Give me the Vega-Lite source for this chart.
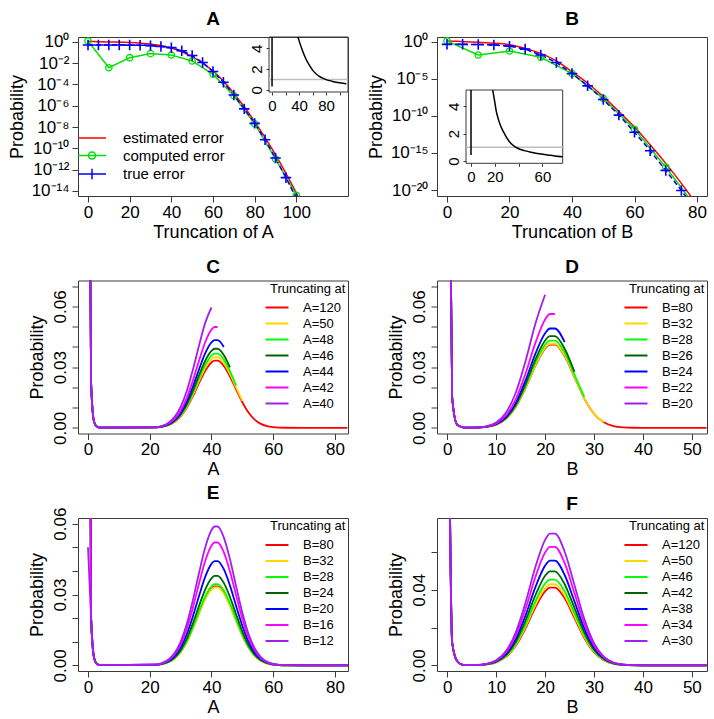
{
"$schema": "https://vega.github.io/schema/vega-lite/v6.json",
"padding": {"left": 7, "top": 9, "right": 5, "bottom": 5},
"background": "white",
"columns": 2,
"spacing": {"row": 84.5, "column": 89},
"bounds": "flush",
"resolve": {"scale": {"color": "independent", "shape": "independent", "strokeDash": "independent"}, "legend": {"color": "independent", "shape": "independent"}},
"concat": [
{
 "title": {"text": "A"},
 "width": 270, "height": 159,
 "layer": [
  {"layer": [
   {"data": {"name": "a"}, "transform": [{"filter": "datum.s == 'estimated error'"}],
    "mark": {"type": "line", "interpolate": "monotone", "strokeWidth": 1.5, "clip": true},
    "encoding": {
     "x": {"field": "x", "type": "quantitative", "scale": {"domain": [-4.8, 124.8], "nice": false, "zero": false}, "axis": {"orient": "bottom", "values": [0,20,40,60,80,100], "title": "Truncation of A"}},
     "y": {"field": "y", "type": "quantitative", "scale": {"type": "log", "domain": [3.39e-15, 2.75], "nice": false}, "axis": {"orient": "left", "values": [1,1e-2,1e-4,1e-6,1e-8,1e-10,1e-12,1e-14], "labelExpr": "'10' + replace(replace(replace(replace(replace(replace(replace(replace('' + round(log(datum.value) / LN10), '-', '⁻'), '0', '⁰'), '1', '¹'), '2', '²'), '4', '⁴'), '5', '⁵'), '6', '⁶'), '8', '⁸')", "labelPadding": 3, "title": "Probability", "titlePadding": 5}},
     "color": {"field": "s", "type": "nominal", "scale": {"domain": ["estimated error","computed error","true error"], "range": ["#FF0000","#00E000","#0000FF"]}, "legend": {"title": null, "orient": "none", "legendX": 6, "legendY": 93, "symbolSize": 196, "symbolStrokeWidth": 1.5, "symbolOpacity": 1, "labelFontSize": 15, "labelOffset": 23, "rowPadding": 1.5}}
    }},
   {"data": {"name": "a"}, "transform": [{"filter": "datum.s != 'estimated error'"}],
    "mark": {"type": "line", "strokeWidth": 1.5, "clip": true},
    "encoding": {
     "x": {"field": "x", "type": "quantitative"},
     "y": {"field": "y", "type": "quantitative"},
     "color": {"field": "s", "type": "nominal", "legend": {"title": null, "orient": "none", "legendX": 6, "legendY": 93, "symbolSize": 196, "symbolStrokeWidth": 1.5, "symbolOpacity": 1, "labelFontSize": 15, "labelOffset": 23, "rowPadding": 1.5}},
     "strokeDash": {"field": "s", "type": "nominal", "scale": {"domain": ["computed error","true error"], "range": [[1,0],[5,3]]}, "legend": null}
    }},
   {"data": {"name": "a"}, "transform": [{"filter": "datum.s == 'computed error'"}],
    "mark": {"type": "point", "shape": "circle", "filled": false, "size": 40, "strokeWidth": 1.3, "opacity": 1, "clip": true},
    "encoding": {
     "x": {"field": "x", "type": "quantitative"},
     "y": {"field": "y", "type": "quantitative"},
     "color": {"field": "s", "type": "nominal", "legend": {"title": null, "orient": "none", "legendX": 6, "legendY": 93, "symbolSize": 196, "symbolStrokeWidth": 1.5, "symbolOpacity": 1, "labelFontSize": 15, "labelOffset": 23, "rowPadding": 1.5}}
    }},
   {"data": {"name": "a"}, "transform": [{"filter": "datum.s == 'true error'"}],
    "mark": {"type": "point", "shape": "M-1,0H1M0,-1V1", "filled": false, "size": 110, "strokeWidth": 1.6, "opacity": 1, "clip": true},
    "encoding": {
     "x": {"field": "x", "type": "quantitative"},
     "y": {"field": "y", "type": "quantitative"},
     "color": {"field": "s", "type": "nominal", "legend": {"title": null, "orient": "none", "legendX": 6, "legendY": 93, "symbolSize": 196, "symbolStrokeWidth": 1.5, "symbolOpacity": 1, "labelFontSize": 15, "labelOffset": 23, "rowPadding": 1.5}}
    }},
   {"data": {"values": [{"s": "estimated error"},{"s": "computed error"},{"s": "true error"}]},
    "mark": {"type": "point", "filled": false, "opacity": 0},
    "encoding": {
     "color": {"field": "s", "type": "nominal", "legend": {"title": null, "orient": "none", "legendX": 6, "legendY": 93, "symbolSize": 196, "symbolStrokeWidth": 1.5, "symbolOpacity": 1, "labelFontSize": 15, "labelOffset": 23, "rowPadding": 1.5}},
     "shape": {"field": "s", "type": "nominal", "scale": {"domain": ["estimated error","computed error","true error"], "range": ["M-2,0H2", "M-2,0H2M-0.5,0A0.5,0.5 0 1,1 0.5,0A0.5,0.5 0 1,1 -0.5,0", "M-2,0H2M0,-0.75V0.75"]}, "legend": {"title": null, "orient": "none", "legendX": 6, "legendY": 93, "symbolSize": 196, "symbolStrokeWidth": 1.5, "symbolOpacity": 1, "labelFontSize": 15, "labelOffset": 23, "rowPadding": 1.5}}
    }}
  ]},
  {"layer": [
   {"data": {"values": [{}]}, "mark": {"type": "rect", "fill": "transparent", "stroke": "#3a3a3a", "strokeWidth": 1},
    "encoding": {"x": {"datum": -4.5, "type": "quantitative"}, "x2": {"datum": 112.5}, "y": {"datum": -0.22, "type": "quantitative"}, "y2": {"datum": 5.1}}},
   {"data": {"values": [{}]}, "mark": {"type": "rule", "color": "#BEBEBE", "strokeWidth": 1.5},
    "encoding": {"x": {"datum": -4.5, "type": "quantitative"}, "x2": {"datum": 112.5}, "y": {"datum": 1, "type": "quantitative"}}},
   {"data": {"name": "ia"}, "mark": {"type": "line", "interpolate": "monotone", "color": "#000000", "strokeWidth": 1.5, "clip": true},
    "encoding": {
     "x": {"field": "x", "type": "quantitative", "scale": {"domain": [-4.5, 112.5], "range": [191, 270], "nice": false, "zero": false}, "axis": {"orient": "bottom", "offset": -104, "values": [0,20,40,60,80,100], "labelExpr": "datum.value % 40 == 0 ? datum.label : ''", "title": null, "tickSize": 3, "labelFontSize": 15, "labelPadding": 3}},
     "y": {"field": "y", "type": "quantitative", "scale": {"domain": [-0.22, 5.1], "range": [55, 0], "nice": false, "zero": false}, "axis": {"orient": "left", "offset": -191, "values": [0,1,2,3,4,5], "labelExpr": "datum.value % 2 == 0 ? datum.label : ''", "labelAngle": -90, "labelAlign": "center", "labelBaseline": "bottom", "title": null, "tickSize": 3, "labelFontSize": 15, "labelPadding": 2}},
     "detail": {"field": "seg", "type": "nominal"}
    }}
  ]}
 ],
 "resolve": {"scale": {"x": "independent", "y": "independent"}}
},
{
 "title": {"text": "B"},
 "width": 270, "height": 159,
 "layer": [
  {"layer": [
   {"data": {"name": "b"}, "transform": [{"filter": "datum.s == 'estimated error'"}],
    "mark": {"type": "line", "interpolate": "monotone", "strokeWidth": 1.5, "clip": true},
    "encoding": {
     "x": {"field": "x", "type": "quantitative", "scale": {"domain": [-3.2, 83.2], "nice": false, "zero": false}, "axis": {"orient": "bottom", "values": [0,20,40,60,80], "title": "Truncation of B"}},
     "y": {"field": "y", "type": "quantitative", "scale": {"type": "log", "domain": [1.58e-21, 4.27], "nice": false}, "axis": {"orient": "left", "values": [1,1e-5,1e-10,1e-15,1e-20], "labelExpr": "'10' + replace(replace(replace(replace(replace(replace(replace(replace('' + round(log(datum.value) / LN10), '-', '⁻'), '0', '⁰'), '1', '¹'), '2', '²'), '4', '⁴'), '5', '⁵'), '6', '⁶'), '8', '⁸')", "labelPadding": 3, "title": "Probability", "titlePadding": 5}},
     "color": {"field": "s", "type": "nominal", "scale": {"domain": ["estimated error","computed error","true error"], "range": ["#FF0000","#00E000","#0000FF"]}, "legend": null}
    }},
   {"data": {"name": "b"}, "transform": [{"filter": "datum.s != 'estimated error'"}],
    "mark": {"type": "line", "strokeWidth": 1.5, "clip": true},
    "encoding": {
     "x": {"field": "x", "type": "quantitative"},
     "y": {"field": "y", "type": "quantitative"},
     "color": {"field": "s", "type": "nominal", "legend": null},
     "strokeDash": {"field": "s", "type": "nominal", "scale": {"domain": ["computed error","true error"], "range": [[1,0],[5,3]]}, "legend": null}
    }},
   {"data": {"name": "b"}, "transform": [{"filter": "datum.s == 'computed error'"}],
    "mark": {"type": "point", "shape": "circle", "filled": false, "size": 40, "strokeWidth": 1.3, "opacity": 1, "clip": true},
    "encoding": {
     "x": {"field": "x", "type": "quantitative"},
     "y": {"field": "y", "type": "quantitative"},
     "color": {"field": "s", "type": "nominal", "legend": null}
    }},
   {"data": {"name": "b"}, "transform": [{"filter": "datum.s == 'true error'"}],
    "mark": {"type": "point", "shape": "M-1,0H1M0,-1V1", "filled": false, "size": 110, "strokeWidth": 1.6, "opacity": 1, "clip": true},
    "encoding": {
     "x": {"field": "x", "type": "quantitative"},
     "y": {"field": "y", "type": "quantitative"},
     "color": {"field": "s", "type": "nominal", "legend": null}
    }}
  ]},
  {"layer": [
   {"data": {"values": [{}]}, "mark": {"type": "rect", "fill": "transparent", "stroke": "#3a3a3a", "strokeWidth": 1},
    "encoding": {"x": {"datum": -4.2, "type": "quantitative"}, "x2": {"datum": 77}, "y": {"datum": -0.17, "type": "quantitative"}, "y2": {"datum": 5.2}}},
   {"data": {"values": [{}]}, "mark": {"type": "rule", "color": "#BEBEBE", "strokeWidth": 1.5},
    "encoding": {"x": {"datum": -4.2, "type": "quantitative"}, "x2": {"datum": 77}, "y": {"datum": 1, "type": "quantitative"}}},
   {"data": {"name": "ib"}, "mark": {"type": "line", "interpolate": "monotone", "color": "#000000", "strokeWidth": 1.5, "clip": true},
    "encoding": {
     "x": {"field": "x", "type": "quantitative", "scale": {"domain": [-4.2, 77], "range": [29, 125.7], "nice": false, "zero": false}, "axis": {"orient": "bottom", "offset": -32.7, "values": [0,20,40,60], "labelExpr": "datum.value == 40 ? '' : datum.label", "title": null, "tickSize": 3, "labelFontSize": 15, "labelPadding": 3}},
     "y": {"field": "y", "type": "quantitative", "scale": {"domain": [-0.17, 5.2], "range": [126.3, 53], "nice": false, "zero": false}, "axis": {"orient": "left", "offset": -29, "values": [0,1,2,3,4,5], "labelExpr": "datum.value % 2 == 0 ? datum.label : ''", "labelAngle": -90, "labelAlign": "center", "labelBaseline": "bottom", "title": null, "tickSize": 3, "labelFontSize": 15, "labelPadding": 2}},
     "detail": {"field": "seg", "type": "nominal"}
    }}
  ]}
 ],
 "resolve": {"scale": {"x": "independent", "y": "independent"}}
},
{
 "title": {"text": "C"},
 "width": 270, "height": 153,
 "data": {"name": "c"},
 "mark": {"type": "line", "interpolate": "monotone", "strokeWidth": 1.8, "clip": true},
 "encoding": {
  "x": {"field": "x", "type": "quantitative", "scale": {"domain": [-3.24, 84.24], "nice": false, "zero": false}, "axis": {"values": [0,20,40,60,80], "title": "A"}},
  "y": {"field": "y", "type": "quantitative", "scale": {"domain": [-0.0028, 0.0728], "nice": false, "zero": false}, "axis": {"values": [0,0.01,0.02,0.03,0.04,0.05,0.06,0.07], "format": ".2f", "labelExpr": "datum.value == 0 || datum.value == 0.03 || datum.value == 0.06 ? datum.label : ''", "labelAngle": -90, "labelAlign": "center", "labelBaseline": "bottom", "labelPadding": 3, "title": "Probability", "titlePadding": 5}},
  "color": {"field": "s", "type": "nominal", "scale": {"domain": ["A=120","A=50","A=48","A=46","A=44","A=42","A=40"], "range": ["#FF0000","#FFD700","#00FF00","#006400","#0000FF","#FF00FF","#A020F0"]}, "legend": {"title": "Truncating at", "orient": "top-right", "offset": 2, "symbolType": "M-2,0H2", "symbolSize": 132, "symbolStrokeWidth": 2, "labelFontSize": 13, "titleFontSize": 13, "rowPadding": 2, "labelOffset": 19, "titlePadding": 5}}
 }
},
{
 "title": {"text": "D"},
 "width": 270, "height": 153,
 "data": {"name": "d"},
 "mark": {"type": "line", "interpolate": "monotone", "strokeWidth": 1.8, "clip": true},
 "encoding": {
  "x": {"field": "x", "type": "quantitative", "scale": {"domain": [-2.1, 53.1], "nice": false, "zero": false}, "axis": {"values": [0,10,20,30,40,50], "title": "B"}},
  "y": {"field": "y", "type": "quantitative", "scale": {"domain": [-0.0028, 0.0728], "nice": false, "zero": false}, "axis": {"values": [0,0.01,0.02,0.03,0.04,0.05,0.06,0.07], "format": ".2f", "labelExpr": "datum.value == 0 || datum.value == 0.03 || datum.value == 0.06 ? datum.label : ''", "labelAngle": -90, "labelAlign": "center", "labelBaseline": "bottom", "labelPadding": 3, "title": "Probability", "titlePadding": 5}},
  "color": {"field": "s", "type": "nominal", "scale": {"domain": ["B=80","B=32","B=28","B=26","B=24","B=22","B=20"], "range": ["#FF0000","#FFD700","#00FF00","#006400","#0000FF","#FF00FF","#A020F0"]}, "legend": {"title": "Truncating at", "orient": "top-right", "offset": 2, "symbolType": "M-2,0H2", "symbolSize": 132, "symbolStrokeWidth": 2, "labelFontSize": 13, "titleFontSize": 13, "rowPadding": 2, "labelOffset": 19, "titlePadding": 5}}
 }
},
{
 "title": {"text": "E"},
 "width": 270, "height": 153,
 "data": {"name": "e"},
 "mark": {"type": "line", "interpolate": "monotone", "strokeWidth": 1.8, "clip": true},
 "encoding": {
  "x": {"field": "x", "type": "quantitative", "scale": {"domain": [-3.24, 84.24], "nice": false, "zero": false}, "axis": {"values": [0,20,40,60,80], "title": "A"}},
  "y": {"field": "y", "type": "quantitative", "scale": {"domain": [-0.0024, 0.0624], "nice": false, "zero": false}, "axis": {"values": [0,0.01,0.02,0.03,0.04,0.05,0.06], "format": ".2f", "labelExpr": "datum.value == 0 || datum.value == 0.03 || datum.value == 0.06 ? datum.label : ''", "labelAngle": -90, "labelAlign": "center", "labelBaseline": "bottom", "labelPadding": 3, "title": "Probability", "titlePadding": 5}},
  "color": {"field": "s", "type": "nominal", "scale": {"domain": ["B=80","B=32","B=28","B=24","B=20","B=16","B=12"], "range": ["#FF0000","#FFD700","#00FF00","#006400","#0000FF","#FF00FF","#A020F0"]}, "legend": {"title": "Truncating at", "orient": "top-right", "offset": 2, "symbolType": "M-2,0H2", "symbolSize": 132, "symbolStrokeWidth": 2, "labelFontSize": 13, "titleFontSize": 13, "rowPadding": 2, "labelOffset": 19, "titlePadding": 5}}
 }
},
{
 "title": {"text": "F"},
 "width": 270, "height": 153,
 "data": {"name": "f"},
 "mark": {"type": "line", "interpolate": "monotone", "strokeWidth": 1.8, "clip": true},
 "encoding": {
  "x": {"field": "x", "type": "quantitative", "scale": {"domain": [-2.1, 53.1], "nice": false, "zero": false}, "axis": {"values": [0,10,20,30,40,50], "title": "B"}},
  "y": {"field": "y", "type": "quantitative", "scale": {"domain": [-0.003, 0.078], "nice": false, "zero": false}, "axis": {"values": [0,0.02,0.04,0.06], "format": ".2f", "labelExpr": "datum.value == 0 || datum.value == 0.04 ? datum.label : ''", "labelAngle": -90, "labelAlign": "center", "labelBaseline": "bottom", "labelPadding": 3, "title": "Probability", "titlePadding": 5}},
  "color": {"field": "s", "type": "nominal", "scale": {"domain": ["A=120","A=50","A=46","A=42","A=38","A=34","A=30"], "range": ["#FF0000","#FFD700","#00FF00","#006400","#0000FF","#FF00FF","#A020F0"]}, "legend": {"title": "Truncating at", "orient": "top-right", "offset": 2, "symbolType": "M-2,0H2", "symbolSize": 132, "symbolStrokeWidth": 2, "labelFontSize": 13, "titleFontSize": 13, "rowPadding": 2, "labelOffset": 19, "titlePadding": 5}}
 }
}
],
"datasets": {
"a": [
{"s":"estimated error","x":0,"y":1.07},{"s":"estimated error","x":10,"y":0.955},{"s":"estimated error","x":20,"y":0.851},{"s":"estimated error","x":30,"y":0.603},{"s":"estimated error","x":35,"y":0.437},{"s":"estimated error","x":40,"y":0.251},{"s":"estimated error","x":45,"y":0.115},{"s":"estimated error","x":50,"y":0.0398},{"s":"estimated error","x":55,"y":0.01},{"s":"estimated error","x":60,"y":1.78e-3},{"s":"estimated error","x":65,"y":2.0e-4},{"s":"estimated error","x":70,"y":1.41e-5},{"s":"estimated error","x":75,"y":7.94e-7},{"s":"estimated error","x":80,"y":3.16e-8},{"s":"estimated error","x":85,"y":1e-9},{"s":"estimated error","x":90,"y":2.51e-11},{"s":"estimated error","x":95,"y":4.47e-13},{"s":"estimated error","x":100,"y":6.31e-15},{"s":"estimated error","x":105,"y":6.31e-17},
{"s":"computed error","x":0,"y":1.15},{"s":"computed error","x":10,"y":3.63e-3},{"s":"computed error","x":20,"y":3.16e-2},{"s":"computed error","x":30,"y":7.59e-2},{"s":"computed error","x":40,"y":5.62e-2},{"s":"computed error","x":50,"y":1.55e-2},{"s":"computed error","x":60,"y":8.71e-4},{"s":"computed error","x":70,"y":8.71e-6},{"s":"computed error","x":80,"y":2.0e-8},{"s":"computed error","x":90,"y":1e-11},{"s":"computed error","x":100,"y":3.98e-15},
{"s":"true error","x":0,"y":0.49},{"s":"true error","x":5,"y":0.49},{"s":"true error","x":10,"y":0.49},{"s":"true error","x":15,"y":0.49},{"s":"true error","x":20,"y":0.479},{"s":"true error","x":25,"y":0.468},{"s":"true error","x":30,"y":0.427},{"s":"true error","x":35,"y":0.355},{"s":"true error","x":40,"y":0.275},{"s":"true error","x":45,"y":0.141},{"s":"true error","x":50,"y":0.0501},{"s":"true error","x":55,"y":0.0112},{"s":"true error","x":60,"y":1.58e-3},{"s":"true error","x":65,"y":1.58e-4},{"s":"true error","x":70,"y":1e-5},{"s":"true error","x":75,"y":5.01e-7},{"s":"true error","x":80,"y":2.19e-8},{"s":"true error","x":85,"y":6.31e-10},{"s":"true error","x":90,"y":1.26e-11},{"s":"true error","x":95,"y":1.78e-13},{"s":"true error","x":100,"y":2.0e-15}
],
"b": [
{"s":"estimated error","x":0,"y":1.23},{"s":"estimated error","x":10,"y":0.813},{"s":"estimated error","x":20,"y":0.398},{"s":"estimated error","x":25,"y":0.126},{"s":"estimated error","x":30,"y":0.0263},{"s":"estimated error","x":35,"y":2.51e-3},{"s":"estimated error","x":40,"y":8.91e-5},{"s":"estimated error","x":45,"y":2.51e-6},{"s":"estimated error","x":50,"y":3.98e-8},{"s":"estimated error","x":55,"y":3.98e-10},{"s":"estimated error","x":60,"y":3.16e-12},{"s":"estimated error","x":65,"y":1.26e-14},{"s":"estimated error","x":70,"y":3.98e-17},{"s":"estimated error","x":75,"y":7.94e-20},{"s":"estimated error","x":80,"y":1e-22},
{"s":"computed error","x":0,"y":1.26},{"s":"computed error","x":10,"y":1.58e-2},{"s":"computed error","x":20,"y":5.5e-2},{"s":"computed error","x":30,"y":7.94e-3},{"s":"computed error","x":40,"y":5.01e-5},{"s":"computed error","x":50,"y":2.24e-8},{"s":"computed error","x":60,"y":1.58e-12},{"s":"computed error","x":70,"y":1.26e-17},{"s":"computed error","x":80,"y":3.16e-23},
{"s":"true error","x":0,"y":0.437},{"s":"true error","x":5,"y":0.437},{"s":"true error","x":10,"y":0.417},{"s":"true error","x":15,"y":0.355},{"s":"true error","x":20,"y":0.251},{"s":"true error","x":25,"y":0.1},{"s":"true error","x":30,"y":0.0158},{"s":"true error","x":35,"y":1.58e-3},{"s":"true error","x":40,"y":5.01e-5},{"s":"true error","x":45,"y":1.12e-6},{"s":"true error","x":50,"y":1.58e-8},{"s":"true error","x":55,"y":1.26e-10},{"s":"true error","x":60,"y":6.31e-13},{"s":"true error","x":65,"y":2.0e-15},{"s":"true error","x":70,"y":4.47e-18},{"s":"true error","x":75,"y":8.91e-21},{"s":"true error","x":80,"y":1.26e-23}
],
"ia": [
{"seg":"v","x":0,"y":0.3},{"seg":"v","x":0,"y":5.1},
{"seg":"c","x":38.4,"y":5.1},{"seg":"c","x":40,"y":4.75},{"seg":"c","x":45,"y":3.8},{"seg":"c","x":50,"y":3.0},{"seg":"c","x":55,"y":2.4},{"seg":"c","x":60,"y":1.9},{"seg":"c","x":65,"y":1.55},{"seg":"c","x":70,"y":1.3},{"seg":"c","x":75,"y":1.12},{"seg":"c","x":80,"y":0.98},{"seg":"c","x":85,"y":0.88},{"seg":"c","x":90,"y":0.8},{"seg":"c","x":95,"y":0.73},{"seg":"c","x":100,"y":0.67},{"seg":"c","x":105,"y":0.62},{"seg":"c","x":110,"y":0.58}
],
"ib": [
{"seg":"v","x":0,"y":0.44},{"seg":"v","x":0,"y":5.2},
{"seg":"c","x":18.2,"y":5.2},{"seg":"c","x":20,"y":4.3},{"seg":"c","x":21,"y":3.75},{"seg":"c","x":23,"y":3.05},{"seg":"c","x":25,"y":2.55},{"seg":"c","x":27.5,"y":2.1},{"seg":"c","x":29.4,"y":1.78},{"seg":"c","x":32,"y":1.45},{"seg":"c","x":35,"y":1.17},{"seg":"c","x":39.2,"y":0.93},{"seg":"c","x":45,"y":0.76},{"seg":"c","x":50.4,"y":0.64},{"seg":"c","x":57,"y":0.53},{"seg":"c","x":64.4,"y":0.44},{"seg":"c","x":70,"y":0.37},{"seg":"c","x":77,"y":0.31}
],
"c": [
{"s":"A=120","x":0,"y":0.25},{"s":"A=120","x":1,"y":0.022},{"s":"A=120","x":2,"y":0.0028},{"s":"A=120","x":3,"y":0.0005},{"s":"A=120","x":4,"y":0.0001},{"s":"A=120","x":22,"y":0.0002},{"s":"A=120","x":24,"y":0.00054},{"s":"A=120","x":26,"y":0.00132},{"s":"A=120","x":28,"y":0.00288},{"s":"A=120","x":30,"y":0.00563},{"s":"A=120","x":32,"y":0.00989},{"s":"A=120","x":34,"y":0.01565},{"s":"A=120","x":36,"y":0.02218},{"s":"A=120","x":38,"y":0.02824},{"s":"A=120","x":40,"y":0.0323},{"s":"A=120","x":41,"y":0.03319},{"s":"A=120","x":42,"y":0.03319},{"s":"A=120","x":44,"y":0.0306},{"s":"A=120","x":46,"y":0.02537},{"s":"A=120","x":48,"y":0.01888},{"s":"A=120","x":50,"y":0.01262},{"s":"A=120","x":52,"y":0.00756},{"s":"A=120","x":54,"y":0.00408},{"s":"A=120","x":56,"y":0.00197},{"s":"A=120","x":58,"y":0.00086},{"s":"A=120","x":60,"y":0.00034},{"s":"A=120","x":62,"y":0.00012},{"s":"A=120","x":64,"y":0.00004},{"s":"A=120","x":70,"y":0},{"s":"A=120","x":84,"y":0},
{"s":"A=50","x":0,"y":0.25},{"s":"A=50","x":1,"y":0.022},{"s":"A=50","x":2,"y":0.0028},{"s":"A=50","x":3,"y":0.0005},{"s":"A=50","x":4,"y":0.0001},{"s":"A=50","x":22,"y":0.00021},{"s":"A=50","x":24,"y":0.00057},{"s":"A=50","x":26,"y":0.00139},{"s":"A=50","x":28,"y":0.00302},{"s":"A=50","x":30,"y":0.00592},{"s":"A=50","x":32,"y":0.0104},{"s":"A=50","x":34,"y":0.01645},{"s":"A=50","x":36,"y":0.02331},{"s":"A=50","x":38,"y":0.02968},{"s":"A=50","x":40,"y":0.03395},{"s":"A=50","x":41,"y":0.03488},{"s":"A=50","x":42,"y":0.03488},{"s":"A=50","x":44,"y":0.03217},{"s":"A=50","x":46,"y":0.02667},{"s":"A=50","x":48,"y":0.01985},{"s":"A=50","x":50,"y":0.01327},
{"s":"A=48","x":0,"y":0.25},{"s":"A=48","x":1,"y":0.022},{"s":"A=48","x":2,"y":0.0028},{"s":"A=48","x":3,"y":0.0005},{"s":"A=48","x":4,"y":0.0001},{"s":"A=48","x":22,"y":0.00022},{"s":"A=48","x":24,"y":0.0006},{"s":"A=48","x":26,"y":0.00146},{"s":"A=48","x":28,"y":0.00318},{"s":"A=48","x":30,"y":0.00622},{"s":"A=48","x":32,"y":0.01093},{"s":"A=48","x":34,"y":0.0173},{"s":"A=48","x":36,"y":0.02451},{"s":"A=48","x":38,"y":0.03121},{"s":"A=48","x":40,"y":0.0357},{"s":"A=48","x":41,"y":0.03667},{"s":"A=48","x":42,"y":0.03667},{"s":"A=48","x":44,"y":0.03382},{"s":"A=48","x":46,"y":0.02804},{"s":"A=48","x":48,"y":0.02087},
{"s":"A=46","x":0,"y":0.25},{"s":"A=46","x":1,"y":0.022},{"s":"A=46","x":2,"y":0.0028},{"s":"A=46","x":3,"y":0.0005},{"s":"A=46","x":4,"y":0.0001},{"s":"A=46","x":22,"y":0.00024},{"s":"A=46","x":24,"y":0.00064},{"s":"A=46","x":26,"y":0.00155},{"s":"A=46","x":28,"y":0.00339},{"s":"A=46","x":30,"y":0.00662},{"s":"A=46","x":32,"y":0.01164},{"s":"A=46","x":34,"y":0.01842},{"s":"A=46","x":36,"y":0.02611},{"s":"A=46","x":38,"y":0.03324},{"s":"A=46","x":40,"y":0.03802},{"s":"A=46","x":41,"y":0.03907},{"s":"A=46","x":42,"y":0.03907},{"s":"A=46","x":44,"y":0.03602},{"s":"A=46","x":46,"y":0.02987},
{"s":"A=44","x":0,"y":0.25},{"s":"A=44","x":1,"y":0.022},{"s":"A=44","x":2,"y":0.0028},{"s":"A=44","x":3,"y":0.0005},{"s":"A=44","x":4,"y":0.0001},{"s":"A=44","x":22,"y":0.00026},{"s":"A=44","x":24,"y":0.00071},{"s":"A=44","x":26,"y":0.00172},{"s":"A=44","x":28,"y":0.00376},{"s":"A=44","x":30,"y":0.00735},{"s":"A=44","x":32,"y":0.01292},{"s":"A=44","x":34,"y":0.02045},{"s":"A=44","x":36,"y":0.02897},{"s":"A=44","x":38,"y":0.03689},{"s":"A=44","x":40,"y":0.0422},{"s":"A=44","x":41,"y":0.04335},{"s":"A=44","x":42,"y":0.04335},{"s":"A=44","x":44,"y":0.03998},
{"s":"A=42","x":0,"y":0.25},{"s":"A=42","x":1,"y":0.022},{"s":"A=42","x":2,"y":0.0028},{"s":"A=42","x":3,"y":0.0005},{"s":"A=42","x":4,"y":0.0001},{"s":"A=42","x":22,"y":0.0003},{"s":"A=42","x":24,"y":0.00082},{"s":"A=42","x":26,"y":0.00198},{"s":"A=42","x":28,"y":0.00432},{"s":"A=42","x":30,"y":0.00845},{"s":"A=42","x":32,"y":0.01485},{"s":"A=42","x":34,"y":0.0235},{"s":"A=42","x":36,"y":0.0333},{"s":"A=42","x":38,"y":0.0424},{"s":"A=42","x":40,"y":0.0485},{"s":"A=42","x":41,"y":0.04983},{"s":"A=42","x":42,"y":0.04983},
{"s":"A=40","x":0,"y":0.25},{"s":"A=40","x":1,"y":0.022},{"s":"A=40","x":2,"y":0.0028},{"s":"A=40","x":3,"y":0.0005},{"s":"A=40","x":4,"y":0.0001},{"s":"A=40","x":22,"y":0.00037},{"s":"A=40","x":24,"y":0.001},{"s":"A=40","x":26,"y":0.00243},{"s":"A=40","x":28,"y":0.0053},{"s":"A=40","x":30,"y":0.01036},{"s":"A=40","x":32,"y":0.01821},{"s":"A=40","x":34,"y":0.02881},{"s":"A=40","x":36,"y":0.04083},{"s":"A=40","x":38,"y":0.05198},{"s":"A=40","x":40,"y":0.05946}
],
"d": [
{"s":"B=80","x":0,"y":0.25},{"s":"B=80","x":1,"y":0.015},{"s":"B=80","x":2,"y":0.0016},{"s":"B=80","x":3,"y":0.0004},{"s":"B=80","x":4,"y":0.0001},{"s":"B=80","x":6,"y":0.00011},{"s":"B=80","x":8,"y":0.00046},{"s":"B=80","x":10,"y":0.00158},{"s":"B=80","x":12,"y":0.00446},{"s":"B=80","x":14,"y":0.01033},{"s":"B=80","x":16,"y":0.01962},{"s":"B=80","x":18,"y":0.03059},{"s":"B=80","x":20,"y":0.03916},{"s":"B=80","x":21,"y":0.04114},{"s":"B=80","x":22,"y":0.04114},{"s":"B=80","x":24,"y":0.03548},{"s":"B=80","x":26,"y":0.02511},{"s":"B=80","x":28,"y":0.01457},{"s":"B=80","x":30,"y":0.00696},{"s":"B=80","x":32,"y":0.00272},{"s":"B=80","x":34,"y":0.00087},{"s":"B=80","x":36,"y":0.00023},{"s":"B=80","x":38,"y":0.00005},{"s":"B=80","x":40,"y":0.00001},{"s":"B=80","x":53,"y":0},
{"s":"B=32","x":0,"y":0.25},{"s":"B=32","x":1,"y":0.015},{"s":"B=32","x":2,"y":0.0016},{"s":"B=32","x":3,"y":0.0004},{"s":"B=32","x":4,"y":0.0001},{"s":"B=32","x":6,"y":0.00011},{"s":"B=32","x":8,"y":0.00046},{"s":"B=32","x":10,"y":0.0016},{"s":"B=32","x":12,"y":0.0045},{"s":"B=32","x":14,"y":0.01043},{"s":"B=32","x":16,"y":0.01981},{"s":"B=32","x":18,"y":0.03089},{"s":"B=32","x":20,"y":0.03954},{"s":"B=32","x":21,"y":0.04154},{"s":"B=32","x":22,"y":0.04154},{"s":"B=32","x":24,"y":0.03582},{"s":"B=32","x":26,"y":0.02535},{"s":"B=32","x":28,"y":0.01471},{"s":"B=32","x":30,"y":0.00702},{"s":"B=32","x":32,"y":0.00275},
{"s":"B=28","x":0,"y":0.25},{"s":"B=28","x":1,"y":0.015},{"s":"B=28","x":2,"y":0.0016},{"s":"B=28","x":3,"y":0.0004},{"s":"B=28","x":4,"y":0.0001},{"s":"B=28","x":6,"y":0.00012},{"s":"B=28","x":8,"y":0.00048},{"s":"B=28","x":10,"y":0.00166},{"s":"B=28","x":12,"y":0.00467},{"s":"B=28","x":14,"y":0.01082},{"s":"B=28","x":16,"y":0.02057},{"s":"B=28","x":18,"y":0.03207},{"s":"B=28","x":20,"y":0.04106},{"s":"B=28","x":21,"y":0.04313},{"s":"B=28","x":22,"y":0.04313},{"s":"B=28","x":24,"y":0.03719},{"s":"B=28","x":26,"y":0.02632},{"s":"B=28","x":28,"y":0.01528},
{"s":"B=26","x":0,"y":0.25},{"s":"B=26","x":1,"y":0.015},{"s":"B=26","x":2,"y":0.0016},{"s":"B=26","x":3,"y":0.0004},{"s":"B=26","x":4,"y":0.0001},{"s":"B=26","x":6,"y":0.00012},{"s":"B=26","x":8,"y":0.00051},{"s":"B=26","x":10,"y":0.00174},{"s":"B=26","x":12,"y":0.00491},{"s":"B=26","x":14,"y":0.01137},{"s":"B=26","x":16,"y":0.02161},{"s":"B=26","x":18,"y":0.0337},{"s":"B=26","x":20,"y":0.04314},{"s":"B=26","x":21,"y":0.04532},{"s":"B=26","x":22,"y":0.04532},{"s":"B=26","x":24,"y":0.03908},{"s":"B=26","x":26,"y":0.02766},
{"s":"B=24","x":0,"y":0.25},{"s":"B=24","x":1,"y":0.015},{"s":"B=24","x":2,"y":0.0016},{"s":"B=24","x":3,"y":0.0004},{"s":"B=24","x":4,"y":0.0001},{"s":"B=24","x":6,"y":0.00013},{"s":"B=24","x":8,"y":0.00055},{"s":"B=24","x":10,"y":0.00189},{"s":"B=24","x":12,"y":0.00532},{"s":"B=24","x":14,"y":0.01232},{"s":"B=24","x":16,"y":0.02342},{"s":"B=24","x":18,"y":0.03651},{"s":"B=24","x":20,"y":0.04673},{"s":"B=24","x":21,"y":0.04909},{"s":"B=24","x":22,"y":0.04909},{"s":"B=24","x":24,"y":0.04234},
{"s":"B=22","x":0,"y":0.25},{"s":"B=22","x":1,"y":0.015},{"s":"B=22","x":2,"y":0.0016},{"s":"B=22","x":3,"y":0.0004},{"s":"B=22","x":4,"y":0.0001},{"s":"B=22","x":6,"y":0.00015},{"s":"B=22","x":8,"y":0.00063},{"s":"B=22","x":10,"y":0.00216},{"s":"B=22","x":12,"y":0.0061},{"s":"B=22","x":14,"y":0.01412},{"s":"B=22","x":16,"y":0.02683},{"s":"B=22","x":18,"y":0.04183},{"s":"B=22","x":20,"y":0.05354},{"s":"B=22","x":21,"y":0.05625},{"s":"B=22","x":22,"y":0.05625},
{"s":"B=20","x":0,"y":0.25},{"s":"B=20","x":1,"y":0.015},{"s":"B=20","x":2,"y":0.0016},{"s":"B=20","x":3,"y":0.0004},{"s":"B=20","x":4,"y":0.0001},{"s":"B=20","x":6,"y":0.00019},{"s":"B=20","x":8,"y":0.00077},{"s":"B=20","x":10,"y":0.00265},{"s":"B=20","x":12,"y":0.00749},{"s":"B=20","x":14,"y":0.01733},{"s":"B=20","x":16,"y":0.03294},{"s":"B=20","x":18,"y":0.05136},{"s":"B=20","x":20,"y":0.06575}
],
"e": [
{"s":"B=80","x":0,"y":0.3},{"s":"B=80","x":1,"y":0.02},{"s":"B=80","x":2,"y":0.003},{"s":"B=80","x":3,"y":0.0005},{"s":"B=80","x":4,"y":0.0001},{"s":"B=80","x":22,"y":0.0002},{"s":"B=80","x":24,"y":0.00055},{"s":"B=80","x":26,"y":0.00133},{"s":"B=80","x":28,"y":0.00289},{"s":"B=80","x":30,"y":0.00566},{"s":"B=80","x":32,"y":0.00995},{"s":"B=80","x":34,"y":0.01575},{"s":"B=80","x":36,"y":0.02231},{"s":"B=80","x":38,"y":0.02841},{"s":"B=80","x":40,"y":0.0325},{"s":"B=80","x":41,"y":0.03339},{"s":"B=80","x":42,"y":0.03339},{"s":"B=80","x":44,"y":0.03079},{"s":"B=80","x":46,"y":0.02553},{"s":"B=80","x":48,"y":0.019},{"s":"B=80","x":50,"y":0.0127},{"s":"B=80","x":52,"y":0.0076},{"s":"B=80","x":54,"y":0.0041},{"s":"B=80","x":56,"y":0.00199},{"s":"B=80","x":58,"y":0.00086},{"s":"B=80","x":60,"y":0.00034},{"s":"B=80","x":62,"y":0.00012},{"s":"B=80","x":64,"y":0.00004},{"s":"B=80","x":70,"y":0},{"s":"B=80","x":85,"y":0},
{"s":"B=32","x":0,"y":0.3},{"s":"B=32","x":1,"y":0.02},{"s":"B=32","x":2,"y":0.003},{"s":"B=32","x":3,"y":0.0005},{"s":"B=32","x":4,"y":0.0001},{"s":"B=32","x":22,"y":0.0002},{"s":"B=32","x":24,"y":0.00054},{"s":"B=32","x":26,"y":0.00131},{"s":"B=32","x":28,"y":0.00286},{"s":"B=32","x":30,"y":0.00559},{"s":"B=32","x":32,"y":0.00983},{"s":"B=32","x":34,"y":0.01556},{"s":"B=32","x":36,"y":0.02204},{"s":"B=32","x":38,"y":0.02807},{"s":"B=32","x":40,"y":0.03211},{"s":"B=32","x":41,"y":0.03299},{"s":"B=32","x":42,"y":0.03299},{"s":"B=32","x":44,"y":0.03042},{"s":"B=32","x":46,"y":0.02522},{"s":"B=32","x":48,"y":0.01877},{"s":"B=32","x":50,"y":0.01254},{"s":"B=32","x":52,"y":0.00751},{"s":"B=32","x":54,"y":0.00405},{"s":"B=32","x":56,"y":0.00196},{"s":"B=32","x":58,"y":0.00085},{"s":"B=32","x":60,"y":0.00033},{"s":"B=32","x":62,"y":0.00012},{"s":"B=32","x":64,"y":0.00004},{"s":"B=32","x":70,"y":0},{"s":"B=32","x":85,"y":0},
{"s":"B=28","x":0,"y":0.3},{"s":"B=28","x":1,"y":0.02},{"s":"B=28","x":2,"y":0.003},{"s":"B=28","x":3,"y":0.0005},{"s":"B=28","x":4,"y":0.0001},{"s":"B=28","x":22,"y":0.00021},{"s":"B=28","x":24,"y":0.00056},{"s":"B=28","x":26,"y":0.00137},{"s":"B=28","x":28,"y":0.00298},{"s":"B=28","x":30,"y":0.00583},{"s":"B=28","x":32,"y":0.01025},{"s":"B=28","x":34,"y":0.01622},{"s":"B=28","x":36,"y":0.02298},{"s":"B=28","x":38,"y":0.02926},{"s":"B=28","x":40,"y":0.03347},{"s":"B=28","x":41,"y":0.03438},{"s":"B=28","x":42,"y":0.03438},{"s":"B=28","x":44,"y":0.03171},{"s":"B=28","x":46,"y":0.02629},{"s":"B=28","x":48,"y":0.01956},{"s":"B=28","x":50,"y":0.01308},{"s":"B=28","x":52,"y":0.00783},{"s":"B=28","x":54,"y":0.00423},{"s":"B=28","x":56,"y":0.00205},{"s":"B=28","x":58,"y":0.00089},{"s":"B=28","x":60,"y":0.00035},{"s":"B=28","x":62,"y":0.00012},{"s":"B=28","x":64,"y":0.00004},{"s":"B=28","x":70,"y":0},{"s":"B=28","x":85,"y":0},
{"s":"B=24","x":0,"y":0.3},{"s":"B=24","x":1,"y":0.02},{"s":"B=24","x":2,"y":0.003},{"s":"B=24","x":3,"y":0.0005},{"s":"B=24","x":4,"y":0.0001},{"s":"B=24","x":22,"y":0.00023},{"s":"B=24","x":24,"y":0.00062},{"s":"B=24","x":26,"y":0.0015},{"s":"B=24","x":28,"y":0.00328},{"s":"B=24","x":30,"y":0.00642},{"s":"B=24","x":32,"y":0.01129},{"s":"B=24","x":34,"y":0.01786},{"s":"B=24","x":36,"y":0.02531},{"s":"B=24","x":38,"y":0.03222},{"s":"B=24","x":40,"y":0.03686},{"s":"B=24","x":41,"y":0.03787},{"s":"B=24","x":42,"y":0.03787},{"s":"B=24","x":44,"y":0.03492},{"s":"B=24","x":46,"y":0.02896},{"s":"B=24","x":48,"y":0.02155},{"s":"B=24","x":50,"y":0.0144},{"s":"B=24","x":52,"y":0.00863},{"s":"B=24","x":54,"y":0.00466},{"s":"B=24","x":56,"y":0.00225},{"s":"B=24","x":58,"y":0.00098},{"s":"B=24","x":60,"y":0.00038},{"s":"B=24","x":62,"y":0.00013},{"s":"B=24","x":64,"y":0.00004},{"s":"B=24","x":70,"y":0},{"s":"B=24","x":85,"y":0},
{"s":"B=20","x":0,"y":0.3},{"s":"B=20","x":1,"y":0.02},{"s":"B=20","x":2,"y":0.003},{"s":"B=20","x":3,"y":0.0005},{"s":"B=20","x":4,"y":0.0001},{"s":"B=20","x":22,"y":0.00027},{"s":"B=20","x":24,"y":0.00072},{"s":"B=20","x":26,"y":0.00175},{"s":"B=20","x":28,"y":0.00383},{"s":"B=20","x":30,"y":0.00749},{"s":"B=20","x":32,"y":0.01316},{"s":"B=20","x":34,"y":0.02082},{"s":"B=20","x":36,"y":0.0295},{"s":"B=20","x":38,"y":0.03757},{"s":"B=20","x":40,"y":0.04297},{"s":"B=20","x":41,"y":0.04415},{"s":"B=20","x":42,"y":0.04415},{"s":"B=20","x":44,"y":0.04071},{"s":"B=20","x":46,"y":0.03376},{"s":"B=20","x":48,"y":0.02512},{"s":"B=20","x":50,"y":0.01679},{"s":"B=20","x":52,"y":0.01006},{"s":"B=20","x":54,"y":0.00543},{"s":"B=20","x":56,"y":0.00263},{"s":"B=20","x":58,"y":0.00114},{"s":"B=20","x":60,"y":0.00045},{"s":"B=20","x":62,"y":0.00016},{"s":"B=20","x":64,"y":0.00005},{"s":"B=20","x":70,"y":0},{"s":"B=20","x":85,"y":0},
{"s":"B=16","x":0,"y":0.3},{"s":"B=16","x":1,"y":0.02},{"s":"B=16","x":2,"y":0.003},{"s":"B=16","x":3,"y":0.0005},{"s":"B=16","x":4,"y":0.0001},{"s":"B=16","x":22,"y":0.00031},{"s":"B=16","x":24,"y":0.00085},{"s":"B=16","x":26,"y":0.00207},{"s":"B=16","x":28,"y":0.00451},{"s":"B=16","x":30,"y":0.00882},{"s":"B=16","x":32,"y":0.0155},{"s":"B=16","x":34,"y":0.02453},{"s":"B=16","x":36,"y":0.03477},{"s":"B=16","x":38,"y":0.04427},{"s":"B=16","x":40,"y":0.05063},{"s":"B=16","x":41,"y":0.05202},{"s":"B=16","x":42,"y":0.05202},{"s":"B=16","x":44,"y":0.04797},{"s":"B=16","x":46,"y":0.03978},{"s":"B=16","x":48,"y":0.0296},{"s":"B=16","x":50,"y":0.01978},{"s":"B=16","x":52,"y":0.01185},{"s":"B=16","x":54,"y":0.00639},{"s":"B=16","x":56,"y":0.0031},{"s":"B=16","x":58,"y":0.00135},{"s":"B=16","x":60,"y":0.00053},{"s":"B=16","x":62,"y":0.00018},{"s":"B=16","x":64,"y":0.00006},{"s":"B=16","x":70,"y":0},{"s":"B=16","x":85,"y":0},
{"s":"B=12","x":0,"y":0.05},{"s":"B=12","x":1,"y":0.02},{"s":"B=12","x":2,"y":0.003},{"s":"B=12","x":3,"y":0.0005},{"s":"B=12","x":4,"y":0.0001},{"s":"B=12","x":22,"y":0.00035},{"s":"B=12","x":24,"y":0.00096},{"s":"B=12","x":26,"y":0.00234},{"s":"B=12","x":28,"y":0.0051},{"s":"B=12","x":30,"y":0.00997},{"s":"B=12","x":32,"y":0.01752},{"s":"B=12","x":34,"y":0.02773},{"s":"B=12","x":36,"y":0.03929},{"s":"B=12","x":38,"y":0.05003},{"s":"B=12","x":40,"y":0.05723},{"s":"B=12","x":41,"y":0.0588},{"s":"B=12","x":42,"y":0.0588},{"s":"B=12","x":44,"y":0.05422},{"s":"B=12","x":46,"y":0.04496},{"s":"B=12","x":48,"y":0.03345},{"s":"B=12","x":50,"y":0.02236},{"s":"B=12","x":52,"y":0.01339},{"s":"B=12","x":54,"y":0.00723},{"s":"B=12","x":56,"y":0.0035},{"s":"B=12","x":58,"y":0.00152},{"s":"B=12","x":60,"y":0.0006},{"s":"B=12","x":62,"y":0.00021},{"s":"B=12","x":64,"y":0.00006},{"s":"B=12","x":70,"y":0},{"s":"B=12","x":85,"y":0}
],
"f": [
{"s":"A=120","x":0,"y":0.25},{"s":"A=120","x":1,"y":0.012},{"s":"A=120","x":2,"y":0.0023},{"s":"A=120","x":3,"y":0.0004},{"s":"A=120","x":4,"y":0.0001},{"s":"A=120","x":6,"y":0.00011},{"s":"A=120","x":8,"y":0.00046},{"s":"A=120","x":10,"y":0.00158},{"s":"A=120","x":12,"y":0.00446},{"s":"A=120","x":14,"y":0.01033},{"s":"A=120","x":16,"y":0.01962},{"s":"A=120","x":18,"y":0.03059},{"s":"A=120","x":20,"y":0.03916},{"s":"A=120","x":21,"y":0.04114},{"s":"A=120","x":22,"y":0.04114},{"s":"A=120","x":24,"y":0.03548},{"s":"A=120","x":26,"y":0.02511},{"s":"A=120","x":28,"y":0.01457},{"s":"A=120","x":30,"y":0.00696},{"s":"A=120","x":32,"y":0.00272},{"s":"A=120","x":34,"y":0.00087},{"s":"A=120","x":36,"y":0.00023},{"s":"A=120","x":38,"y":0.00005},{"s":"A=120","x":40,"y":0.00001},{"s":"A=120","x":53,"y":0},
{"s":"A=50","x":0,"y":0.25},{"s":"A=50","x":1,"y":0.012},{"s":"A=50","x":2,"y":0.0023},{"s":"A=50","x":3,"y":0.0004},{"s":"A=50","x":4,"y":0.0001},{"s":"A=50","x":6,"y":0.00012},{"s":"A=50","x":8,"y":0.00048},{"s":"A=50","x":10,"y":0.00165},{"s":"A=50","x":12,"y":0.00465},{"s":"A=50","x":14,"y":0.01077},{"s":"A=50","x":16,"y":0.02048},{"s":"A=50","x":18,"y":0.03192},{"s":"A=50","x":20,"y":0.04087},{"s":"A=50","x":21,"y":0.04293},{"s":"A=50","x":22,"y":0.04293},{"s":"A=50","x":24,"y":0.03702},{"s":"A=50","x":26,"y":0.0262},{"s":"A=50","x":28,"y":0.01521},{"s":"A=50","x":30,"y":0.00726},{"s":"A=50","x":32,"y":0.00284},{"s":"A=50","x":34,"y":0.00091},{"s":"A=50","x":36,"y":0.00024},{"s":"A=50","x":38,"y":0.00005},{"s":"A=50","x":40,"y":0.00001},{"s":"A=50","x":53,"y":0},
{"s":"A=46","x":0,"y":0.25},{"s":"A=46","x":1,"y":0.012},{"s":"A=46","x":2,"y":0.0023},{"s":"A=46","x":3,"y":0.0004},{"s":"A=46","x":4,"y":0.0001},{"s":"A=46","x":6,"y":0.00012},{"s":"A=46","x":8,"y":0.00051},{"s":"A=46","x":10,"y":0.00175},{"s":"A=46","x":12,"y":0.00492},{"s":"A=46","x":14,"y":0.0114},{"s":"A=46","x":16,"y":0.02166},{"s":"A=46","x":18,"y":0.03377},{"s":"A=46","x":20,"y":0.04323},{"s":"A=46","x":21,"y":0.04542},{"s":"A=46","x":22,"y":0.04542},{"s":"A=46","x":24,"y":0.03916},{"s":"A=46","x":26,"y":0.02772},{"s":"A=46","x":28,"y":0.01609},{"s":"A=46","x":30,"y":0.00768},{"s":"A=46","x":32,"y":0.003},{"s":"A=46","x":34,"y":0.00096},{"s":"A=46","x":36,"y":0.00026},{"s":"A=46","x":38,"y":0.00005},{"s":"A=46","x":40,"y":0.00001},{"s":"A=46","x":53,"y":0},
{"s":"A=42","x":0,"y":0.25},{"s":"A=42","x":1,"y":0.012},{"s":"A=42","x":2,"y":0.0023},{"s":"A=42","x":3,"y":0.0004},{"s":"A=42","x":4,"y":0.0001},{"s":"A=42","x":6,"y":0.00014},{"s":"A=42","x":8,"y":0.00056},{"s":"A=42","x":10,"y":0.00191},{"s":"A=42","x":12,"y":0.0054},{"s":"A=42","x":14,"y":0.0125},{"s":"A=42","x":16,"y":0.02375},{"s":"A=42","x":18,"y":0.03702},{"s":"A=42","x":20,"y":0.0474},{"s":"A=42","x":21,"y":0.04979},{"s":"A=42","x":22,"y":0.04979},{"s":"A=42","x":24,"y":0.04294},{"s":"A=42","x":26,"y":0.03039},{"s":"A=42","x":28,"y":0.01764},{"s":"A=42","x":30,"y":0.00842},{"s":"A=42","x":32,"y":0.00329},{"s":"A=42","x":34,"y":0.00106},{"s":"A=42","x":36,"y":0.00028},{"s":"A=42","x":38,"y":0.00006},{"s":"A=42","x":40,"y":0.00001},{"s":"A=42","x":53,"y":0},
{"s":"A=38","x":0,"y":0.25},{"s":"A=38","x":1,"y":0.012},{"s":"A=38","x":2,"y":0.0023},{"s":"A=38","x":3,"y":0.0004},{"s":"A=38","x":4,"y":0.0001},{"s":"A=38","x":6,"y":0.00015},{"s":"A=38","x":8,"y":0.00062},{"s":"A=38","x":10,"y":0.00213},{"s":"A=38","x":12,"y":0.00601},{"s":"A=38","x":14,"y":0.01392},{"s":"A=38","x":16,"y":0.02645},{"s":"A=38","x":18,"y":0.04124},{"s":"A=38","x":20,"y":0.05279},{"s":"A=38","x":21,"y":0.05545},{"s":"A=38","x":22,"y":0.05545},{"s":"A=38","x":24,"y":0.04782},{"s":"A=38","x":26,"y":0.03384},{"s":"A=38","x":28,"y":0.01964},{"s":"A=38","x":30,"y":0.00937},{"s":"A=38","x":32,"y":0.00367},{"s":"A=38","x":34,"y":0.00118},{"s":"A=38","x":36,"y":0.00031},{"s":"A=38","x":38,"y":0.00007},{"s":"A=38","x":40,"y":0.00001},{"s":"A=38","x":53,"y":0},
{"s":"A=34","x":0,"y":0.25},{"s":"A=34","x":1,"y":0.012},{"s":"A=34","x":2,"y":0.0023},{"s":"A=34","x":3,"y":0.0004},{"s":"A=34","x":4,"y":0.0001},{"s":"A=34","x":6,"y":0.00017},{"s":"A=34","x":8,"y":0.0007},{"s":"A=34","x":10,"y":0.00241},{"s":"A=34","x":12,"y":0.0068},{"s":"A=34","x":14,"y":0.01574},{"s":"A=34","x":16,"y":0.02991},{"s":"A=34","x":18,"y":0.04663},{"s":"A=34","x":20,"y":0.05969},{"s":"A=34","x":21,"y":0.06271},{"s":"A=34","x":22,"y":0.06271},{"s":"A=34","x":24,"y":0.05408},{"s":"A=34","x":26,"y":0.03827},{"s":"A=34","x":28,"y":0.02221},{"s":"A=34","x":30,"y":0.0106},{"s":"A=34","x":32,"y":0.00415},{"s":"A=34","x":34,"y":0.00133},{"s":"A=34","x":36,"y":0.00035},{"s":"A=34","x":38,"y":0.00008},{"s":"A=34","x":40,"y":0.00001},{"s":"A=34","x":53,"y":0},
{"s":"A=30","x":0,"y":0.25},{"s":"A=30","x":1,"y":0.012},{"s":"A=30","x":2,"y":0.0023},{"s":"A=30","x":3,"y":0.0004},{"s":"A=30","x":4,"y":0.0001},{"s":"A=30","x":6,"y":0.00019},{"s":"A=30","x":8,"y":0.00078},{"s":"A=30","x":10,"y":0.00268},{"s":"A=30","x":12,"y":0.00756},{"s":"A=30","x":14,"y":0.01751},{"s":"A=30","x":16,"y":0.03327},{"s":"A=30","x":18,"y":0.05188},{"s":"A=30","x":20,"y":0.06641},{"s":"A=30","x":21,"y":0.06977},{"s":"A=30","x":22,"y":0.06977},{"s":"A=30","x":24,"y":0.06016},{"s":"A=30","x":26,"y":0.04258},{"s":"A=30","x":28,"y":0.02471},{"s":"A=30","x":30,"y":0.01179},{"s":"A=30","x":32,"y":0.00461},{"s":"A=30","x":34,"y":0.00148},{"s":"A=30","x":36,"y":0.00039},{"s":"A=30","x":38,"y":0.00008},{"s":"A=30","x":40,"y":0.00001},{"s":"A=30","x":53,"y":0}
]
},
"config": {
 "font": "Liberation Sans",
 "view": {"stroke": "#3a3a3a", "strokeWidth": 1},
 "axis": {"grid": false, "domain": false, "tickColor": "#3a3a3a", "tickSize": 6, "tickWidth": 1, "labelFontSize": 17, "labelColor": "#000000", "labelPadding": 2, "titleFontSize": 18, "titleFontWeight": "normal", "titleColor": "#000000", "titlePadding": 3, "labelFlush": false, "labelOverlap": false},
 "legend": {"labelColor": "#000000", "titleColor": "#000000", "titleFontWeight": "normal", "padding": 0},
 "title": {"fontSize": 19, "fontWeight": "bold", "offset": 4, "frame": "group", "color": "#000000"}
}
}
